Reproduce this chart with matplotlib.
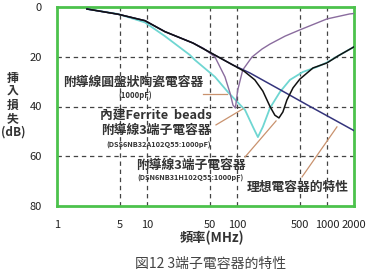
import matplotlib
matplotlib.use("Agg")
import matplotlib.pyplot as plt

plt.rcParams['font.family'] = ['Noto Sans CJK TC', 'DejaVu Sans']

# ---- data (frequency in MHz, insertion loss in dB) ----
ideal_f = [2.15, 4.76, 9.5, 15.8, 32.5, 90, 139, 300, 600, 1000, 2000]
ideal_db = [0.8, 2.9, 5.5, 9.9, 14.5, 23.3, 26.5, 33.2, 39.3, 43.7, 49.7]

disc_f = [2.15, 4.76, 9.5, 15.8, 32.5, 41.9, 57, 73.6, 83.8, 90.3, 96.1, 102, 116, 147, 190, 233, 343, 500, 1000, 1785, 2000]
disc_db = [0.8, 2.9, 5.5, 9.9, 14.5, 16.5, 20.1, 28.1, 34.6, 39.4, 40.6, 33.4, 25.3, 20.1, 16.9, 14.9, 11.7, 9.2, 4.8, 2.8, 2.6]

dss_f = [2.15, 4.76, 9.5, 15.8, 30, 34.1, 57, 79.4, 123, 150.6, 171, 194, 233, 300, 388, 541, 774, 1000, 1325, 1896, 2000]
dss_db = [0.8, 2.8, 6.2, 11.7, 19.3, 21.3, 28.1, 34.2, 41.4, 48.2, 52.3, 48.2, 40.6, 34.2, 29.3, 26.1, 24.1, 22.3, 19.7, 16.5, 16.0]

dsn_f = [2.15, 4.76, 9.5, 15.8, 32.5, 90, 120, 158, 194, 233, 264, 293, 324, 359, 420, 500, 700, 1000, 1325, 1896, 2000]
dsn_db = [0.8, 2.9, 5.5, 9.9, 14.5, 23.3, 25.8, 29.3, 33.8, 40.0, 43.5, 44.6, 42.2, 37.4, 32.5, 29.0, 24.5, 22.5, 19.7, 16.5, 16.0]

x_ticks = [1, 5, 10, 50, 100, 500, 1000, 2000]
x_labels = ['1', '5', '10', '50', '100', '500', '1000', '2000']
y_ticks = [0, 20, 40, 60, 80]

W, H = 373, 277
fig = plt.figure(figsize=(W / 100, H / 100), dpi=100)
fig.patch.set_facecolor('white')
ax = fig.add_axes([57 / W, 1 - 206 / H, (354 - 57) / W, (206 - 7) / H])

ax.set_xscale('log')
ax.set_xlim(1, 2000)
ax.set_ylim(80, 0)

# grid
for xv in [5, 10, 50, 100, 500, 1000]:
    ax.axvline(xv, color='#444444', lw=0.9, ls=(0, (3.5, 3)), zorder=1)
for yv in [20, 40, 60]:
    ax.axhline(yv, color='#444444', lw=0.9, ls=(0, (3.5, 3)), zorder=1)

ax.plot(dss_f, dss_db, color='#6fd6d2', lw=1.3, zorder=3)
ax.plot(disc_f, disc_db, color='#8a6c9e', lw=1.0, zorder=4)
ax.plot(ideal_f, ideal_db, color='#34347c', lw=1.1, zorder=4)
ax.plot(dsn_f, dsn_db, color='#111111', lw=1.1, zorder=5)

for s in ax.spines.values():
    s.set_color('#4cc24c')
    s.set_linewidth(2.0)

ax.set_xticks(x_ticks)
ax.set_xticklabels(x_labels)
ax.set_yticks(y_ticks)
ax.minorticks_off()
ax.tick_params(axis='both', length=0, labelsize=8, colors='#222222')
ax.tick_params(axis='x', pad=10)
ax.tick_params(axis='y', pad=11)

# leader lines
lead = '#c9926e'
leaders = [((41.9, 35.0), (77.4, 35.0)),
           ((58.5, 47.4), (116, 41.0)),
           ((123, 60.3), (272, 45.8)),
           ((529, 68.3), (1292, 48.2))]
for (x0, y0), (x1, y1) in leaders:
    ax.plot([x0, x1], [y0, y1], color=lead, lw=0.9, zorder=6)

def ftxt(px, py, s, **kw):
    fig.text(px / W, 1 - py / H, s, ha='center', va='center', **kw)

tc = '#333333'
ftxt(133, 82, '附導線圓盤狀陶瓷電容器', fontsize=9.2, color=tc, fontweight='bold')
ftxt(135, 95, '(1000pF)', fontsize=5.5, color=tc, fontweight='bold')
ftxt(156, 115, '內建Ferrite  beads', fontsize=9.2, color=tc, fontweight='bold')
ftxt(156, 130, '附導線3端子電容器', fontsize=9.2, color=tc, fontweight='bold')
ftxt(159, 145, '(DSS6NB32A102Q55:1000pF)', fontsize=5.3, color=tc, fontweight='bold')
ftxt(191, 165, '附導線3端子電容器', fontsize=9.2, color=tc, fontweight='bold')
ftxt(190, 178, '(DSN6NB31H102Q55:1000pF)', fontsize=5.3, color=tc, fontweight='bold')
ftxt(298, 187, '理想電容器的特性', fontsize=9.2, color=tc, fontweight='bold')

ftxt(13, 105, '挿\n入\n損\n失\n(dB)', fontsize=8.5, color=tc, fontweight='bold', linespacing=1.05)
ftxt(212, 238, '頻率(MHz)', fontsize=9.5, color=tc, fontweight='bold')
ftxt(211, 264, '図12 3端子電容器的特性', fontsize=10, color='#444444')

fig.savefig('out.png', dpi=100)
